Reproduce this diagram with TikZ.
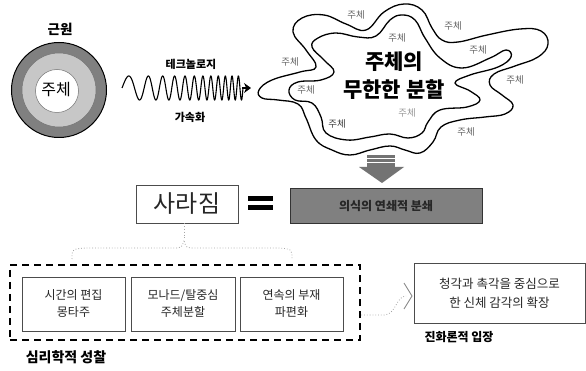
\documentclass[tikz,border=0pt]{standalone}
\usepackage{fontspec}
\setmainfont{Noto Sans CJK KR}
\usetikzlibrary{arrows.meta,shapes.geometric}
\begin{document}
\begin{tikzpicture}[x=1pt,y=-1pt,
 lbl/.style={font=\fontsize{9.5}{10}\selectfont, text=black!60, inner sep=0pt},
 bx/.style={draw=black!70, line width=0.8pt, fill=white, align=center, inner sep=0pt, text=black!85},
 dotline/.style={draw=black!35, line width=0.8pt, dotted},
 ]
\useasboundingbox (0,0) rectangle (586,371);
\fill[white] (0,0) rectangle (586,371);
% concentric circles
\filldraw[fill=black!50, draw=black, line width=1pt] (59,90) circle (47.5pt);
\filldraw[fill=black!22, draw=black!55, line width=0.5pt] (59,90) circle (37pt);
\filldraw[fill=white, draw=black!55, line width=0.5pt] (57,91) circle (21.5pt);
\node (src) at (60,29) {\fontsize{13.5}{14}\selectfont\bfseries 근원};
\node (subj) at (56,90) {\fontsize{16}{16}\selectfont 주체};
% chirp wave
\draw[line width=1.1pt] plot[domain=0:1, samples=600, smooth, variable=\t] ({122+121*\t}, {88-12*sin(360*(4*\t+8*\t*\t))});
\draw[line width=1.1pt, -{Stealth[length=7pt,width=10pt]}] (242,88) -- (251,88);
\node (tech) at (191,64) {\fontsize{11}{11}\selectfont\bfseries 테크놀로지};
\node (accel) at (190,117) {\fontsize{11}{11}\selectfont\bfseries 가속화};
% blob outlines
\draw[line width=1.3pt] plot[smooth cycle, tension=0.7] coordinates {
(259,90) (272,80) (300,72) (316,67) (306,50) (293,32) (302,18) (324,15)
(346,24) (366,30) (384,12) (404,4) (422,10) (432,28) (442,40) (458,42)
(487,35) (520,29) (541,31) (548,44) (538,57) (515,66) (494,74) (490,85)
(502,95) (513,105) (505,114) (485,117) (460,120) (441,127) (433,142) (420,153)
(405,150) (390,146) (370,150) (350,155) (332,150) (316,140) (306,118) (298,104)
(278,100) (262,98)};
\draw[line width=1.3pt] plot[smooth cycle, tension=0.7] coordinates {
(289,90) (298,82) (321,80) (334,72) (324,60) (312,47) (318,38) (336,33)
(358,37) (376,36) (390,20) (402,15) (415,20) (425,38) (440,58) (462,68)
(490,58) (506,50) (511,57) (498,67) (470,75) (455,83) (470,91) (480,100)
(467,107) (440,110) (428,122) (422,133) (408,138) (390,134) (370,137) (347,140)
(326,133) (321,117) (312,103) (295,100)};
\node (dtext) at (394,76) [align=center, font=\fontsize{21}{28}\selectfont\bfseries] {주체의\\무한한 분할};
\node[lbl] (s1) at (356,15) {주체};
\node[lbl] (s2) at (453,26) {주체};
\node[lbl] (s3) at (397,38) {주체};
\node[lbl] (s4) at (478,50) {주체};
\node[lbl] (s5) at (290,62) {주체};
\node[lbl] (s6) at (515,80) {주체};
\node[lbl] (s7) at (306,90) {주체};
\node[lbl, text=black!40] (s8) at (407,113) {주체};
\node[lbl, text=black!75] (s9) at (337,124) {주체};
\node[lbl] (s10) at (466,132) {주체};
% down arrow
\fill[black!55] (367,155) rectangle (395,167);
\draw[white, line width=0.9pt] (367,158.5) -- (395,158.5) (367,162.5) -- (395,162.5);
\fill[black!55] (359,167) -- (404,167) -- (382,183) -- cycle;
% disappearance = consciousness
\node[bx, minimum width=102pt, minimum height=38pt, font=\fontsize{24}{24}\selectfont] (sa) at (187,204) {사라짐};
\fill (248,196) rectangle (273,201);
\fill (248,205) rectangle (273,210);
\node[draw=black!80, line width=0.9pt, fill=black!50, minimum width=192pt, minimum height=35pt, font=\fontsize{12}{12}\selectfont\bfseries, text=black!85] (cons) at (386,206) {의식의 연쇄적 분쇄};
% brace
\coordinate (bt) at (184,240);
\draw[dotline] (sa.south -| bt) -- (bt);
\draw[dotline] (72,259) .. controls (72,249) .. (86,248) -- (172,248) .. controls (182,248) .. (bt)
  .. controls (186,248) .. (196,248) -- (278,248) .. controls (292,249) .. (292,259);
% dashed frame with three boxes
\node[draw=black, line width=2.6pt, dash pattern=on 7pt off 5pt, minimum width=350pt, minimum height=75pt, inner sep=0pt] (psy) at (185,302.5) {};
\node[bx, minimum width=103pt, minimum height=54pt, font=\fontsize{12}{17}\selectfont] (b1) at (73.5,304) {시간의 편집\\몽타주};
\node[bx, minimum width=104pt, minimum height=54pt, font=\fontsize{12}{17}\selectfont] (b2) at (183,304) {모나드/탈중심\\주체분할};
\node[bx, minimum width=103pt, minimum height=54pt, font=\fontsize{12}{17}\selectfont] (b3) at (291.5,304) {연속의 부재\\파편화};
\node (psyl) at (66,357) {\fontsize{14}{14}\selectfont\bfseries 심리학적 성찰};
% right box
\node[bx, minimum width=171pt, minimum height=60pt, font=\fontsize{12.5}{19}\selectfont] (evo) at (499.5,293) {청각과 촉각을 중심으로\\한 신체 감각의 확장};
\node (evol) at (459,337) {\fontsize{12}{12}\selectfont\bfseries 진화론적 입장};
% connector
\coordinate (cs) at (psy.east |- 0,315);
\coordinate (ce) at (406,296);
\draw[dotline] (cs) -- (384,315) .. controls (396,315) and (396,296) .. (ce);
\draw[black!45, line width=0.9pt] (404,283) -- (412,296) -- (404,309);
\end{tikzpicture}
\end{document}
